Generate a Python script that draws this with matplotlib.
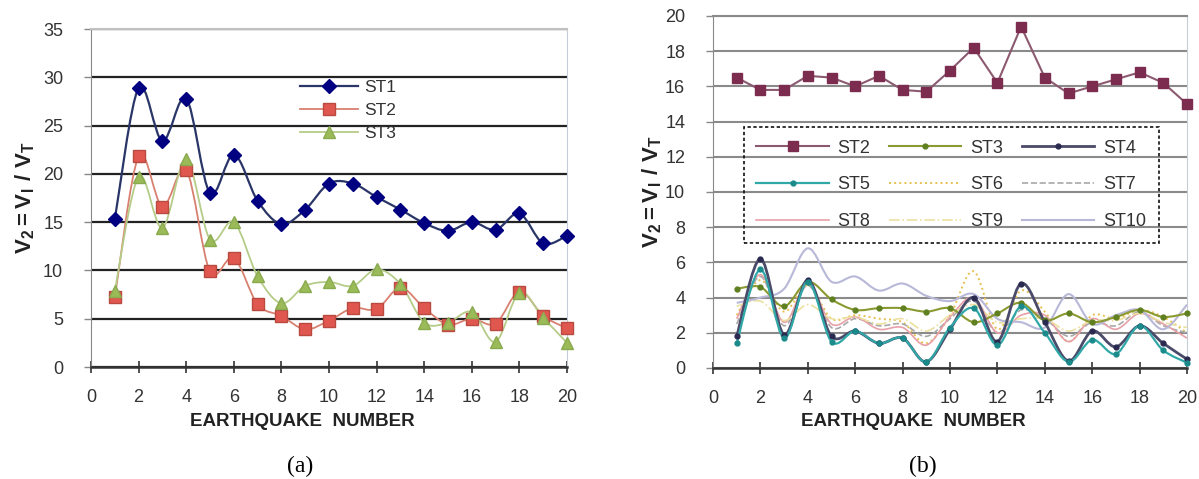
import numpy as np
import matplotlib
matplotlib.use("Agg")
import matplotlib.pyplot as plt
from matplotlib.path import Path
from matplotlib.patches import PathPatch
from matplotlib.lines import Line2D

plt.rcParams['font.family'] = ['Liberation Sans', 'DejaVu Sans']
plt.rcParams['mathtext.fontset'] = 'custom'
plt.rcParams['mathtext.bf'] = 'Liberation Sans:bold'
plt.rcParams['mathtext.rm'] = 'Liberation Sans'

# ==========================================
# DATA
# ==========================================
quake = np.arange(1, 21)

# panel (a)
a_st1 = [15.3, 28.9, 23.4, 27.8, 18.0, 22.0, 17.2, 14.8, 16.3, 19.0,
         19.0, 17.6, 16.3, 14.9, 14.1, 15.0, 14.2, 15.9, 12.8, 13.6]
a_st2 = [7.2, 21.8, 16.6, 20.4, 9.9, 11.3, 6.5, 5.3, 3.9, 4.8,
         6.1, 6.0, 8.2, 6.1, 4.4, 5.0, 4.5, 7.8, 5.3, 4.0]
a_st3 = [7.9, 19.7, 14.4, 21.5, 13.2, 15.0, 9.4, 6.6, 8.4, 8.8,
         8.4, 10.1, 8.6, 4.6, 4.6, 5.7, 2.6, 7.7, 5.1, 2.5]

# panel (b)
b_st2 = [16.5, 15.8, 15.8, 16.6, 16.5, 16.0, 16.6, 15.8, 15.7, 16.9,
         18.2, 16.2, 19.4, 16.5, 15.6, 16.0, 16.4, 16.8, 16.2, 15.0]
b_st3 = [4.5, 4.6, 3.5, 4.9, 3.9, 3.3, 3.4, 3.4, 3.2, 3.4,
         2.6, 3.1, 3.7, 2.7, 3.1, 2.6, 2.9, 3.3, 2.9, 3.1]
b_st4 = [1.8, 6.2, 1.9, 5.0, 1.8, 2.1, 1.4, 1.7, 0.35, 2.2,
         4.0, 1.5, 4.8, 2.6, 0.4, 2.1, 1.2, 2.4, 1.4, 0.5]
b_st5 = [1.4, 5.6, 1.7, 4.9, 1.5, 2.1, 1.4, 1.7, 0.35, 2.3,
         3.4, 1.3, 3.5, 2.0, 0.35, 1.6, 0.8, 2.4, 1.0, 0.3]
b_st6 = [3.0, 5.0, 3.2, 4.7, 2.8, 3.0, 2.8, 2.6, 1.4, 3.0,
         5.5, 2.2, 4.4, 3.2, 1.5, 3.0, 2.8, 3.3, 2.9, 2.0]
b_st7 = [2.5, 5.2, 2.4, 4.7, 2.3, 2.8, 2.4, 2.5, 1.8, 2.8,
         3.8, 2.0, 3.3, 2.8, 1.8, 2.6, 2.4, 3.2, 2.4, 2.0]
b_st8 = [2.8, 5.3, 2.6, 4.8, 2.5, 2.9, 2.2, 2.3, 1.3, 2.9,
         4.0, 2.0, 3.0, 3.0, 1.5, 2.8, 2.2, 3.1, 2.5, 1.7]
b_st9 = [3.5, 3.8, 2.7, 3.6, 2.8, 2.9, 2.5, 2.8, 2.1, 3.0,
         3.6, 2.6, 2.8, 2.8, 2.1, 2.7, 2.7, 3.1, 2.6, 2.3]
b_st10 = [3.7, 4.0, 4.5, 6.8, 4.9, 5.2, 4.4, 4.8, 4.1, 3.8,
          4.2, 2.8, 2.6, 2.3, 4.2, 2.5, 3.0, 3.3, 2.2, 3.6]

x_ticks = list(range(0, 21, 2))
ylab = r'$\mathbf{V_2{=}V_I\ /\ V_T}$'
xlab = 'EARTHQUAKE  NUMBER'


def smooth_path(x, y):
    # excel-like smoothed line: bezier segments through the data points
    pts = np.column_stack([x, y]).astype(float)
    n = len(pts)
    verts = [pts[0]]
    codes = [Path.MOVETO]
    for i in range(n - 1):
        p0 = pts[max(i - 1, 0)]
        p1 = pts[i]
        p2 = pts[i + 1]
        p3 = pts[min(i + 2, n - 1)]
        verts += [p1 + (p2 - p0) / 6, p2 - (p3 - p1) / 6, p2]
        codes += [Path.CURVE4] * 3
    return Path(verts, codes)


def series(ax, y, color, lw=1.3, ls='-', marker=None, ms=6, mfc=None, mec=None,
           smooth=True, z=3):
    if smooth:
        ax.add_patch(PathPatch(smooth_path(quake, y), facecolor='none', edgecolor=color,
                               lw=lw, ls=ls, zorder=z))
    else:
        ax.plot(quake, y, color=color, lw=lw, ls=ls, zorder=z)
    if marker:
        ax.plot(quake, y, ls='none', marker=marker, ms=ms, mfc=mfc or color,
                mec=mec or mfc or color, zorder=z + 0.5, clip_on=False)
    return Line2D([], [], color=color, lw=lw, ls=ls, marker=marker, ms=ms,
                  mfc=mfc or color, mec=mec or mfc or color)


def style_axes(ax, ymax, ystep, grid_color, grid_lw, spine_color):
    ax.set_xlim(0, 20)
    ax.set_ylim(0, ymax)
    ax.set_xticks(x_ticks)
    ax.set_yticks(np.arange(0, ymax + 0.1, ystep))
    ax.yaxis.grid(True, color=grid_color, lw=grid_lw, zorder=1)
    ax.set_axisbelow(True)
    ax.spines['left'].set_color('#888888')
    ax.spines['bottom'].set_color('#333333')
    ax.spines['bottom'].set_linewidth(1.8)
    ax.spines['top'].set_color(spine_color)
    ax.spines['right'].set_color('#c8cbd8')
    ax.spines['top'].set_linewidth(1.5)
    ax.tick_params(axis='x', direction='inout', length=8, width=1.2, color='#333333',
                   pad=12, labelsize=13, labelcolor='#333333')
    ax.tick_params(axis='y', direction='out', length=5, width=1.0, color='#888888',
                   pad=15, labelsize=13, labelcolor='#333333')


fig = plt.figure(figsize=(11.99, 4.79), dpi=100)
W, H = 1199, 479

# ---------- panel (a) ----------
axa = fig.add_axes([91 / W, 1 - 367 / H, 476 / W, 338 / H])
style_axes(axa, 35, 5, '#222222', 1.6, '#c0c0c0')
h1 = series(axa, a_st1, '#2a3568', lw=1.6, marker='D', ms=7, mfc='#000080')
h2 = series(axa, a_st2, '#d88070', lw=1.3, marker='s', ms=8.5, mfc='#e0574f', mec='#b84a40')
h3 = series(axa, a_st3, '#b5cc88', lw=1.3, marker='^', ms=8, mfc='#9bbb59', mec='#8aaa50')
leg = axa.legend([h1, h2, h3], ['ST1', 'ST2', 'ST3'], loc='upper left',
                 bbox_to_anchor=(0.44, 0.85), frameon=False, fontsize=12.5,
                 handlelength=3.3, handletextpad=0.4, labelspacing=0.45,
                 borderpad=0, borderaxespad=0)
for t in leg.get_texts():
    t.set_color('#333333')

# ---------- panel (b) ----------
axb = fig.add_axes([713 / W, 1 - 368 / H, 474 / W, 352 / H])
style_axes(axb, 20, 2, '#8a8a8a', 1.5, '#8a8a8a')
hb = []
hb.append(series(axb, b_st2, '#8c5a70', lw=1.5, marker='s', ms=6.5, mfc='#7b2c4f',
                 smooth=False, z=5))
hb.append(series(axb, b_st3, '#8a9a30', lw=1.5, marker='o', ms=3.5, mfc='#5f7f20', z=4))
hb.append(series(axb, b_st4, '#4a4a6a', lw=2.0, marker='o', ms=3.5, mfc='#2a2a50', z=4))
hb.append(series(axb, b_st5, '#30a8a8', lw=1.6, marker='o', ms=3.5, mfc='#1a8a8a', z=4))
hb.append(series(axb, b_st6, '#e8c050', lw=1.4, ls=':', z=3))
hb.append(series(axb, b_st7, '#a8a8a8', lw=1.2, ls='--', z=3))
hb.append(series(axb, b_st8, '#e8a0a8', lw=1.2, z=3))
hb.append(series(axb, b_st9, '#ece0a0', lw=1.2, ls='-.', z=3))
hb.append(series(axb, b_st10, '#b8b8d8', lw=1.5, z=3))
names_b = ['ST2', 'ST3', 'ST4', 'ST5', 'ST6', 'ST7', 'ST8', 'ST9', 'ST10']
# legend is filled row by row (3 columns)
order = [0, 3, 6, 1, 4, 7, 2, 5, 8]
legb = axb.legend([hb[i] for i in order], [names_b[i] for i in order], ncol=3,
                  loc='upper left', bbox_to_anchor=(0.065, 0.364, 0.876, 0.321),
                  mode='expand', fontsize=13, handlelength=4.0, handletextpad=0.5,
                  labelspacing=1.1, borderpad=0.7, borderaxespad=0,
                  columnspacing=1.0, fancybox=False)
fr = legb.get_frame()
fr.set_facecolor('none')
fr.set_edgecolor('#111111')
fr.set_alpha(1)
fr.set_linestyle((0, (2, 1.5)))
fr.set_linewidth(1.2)
for t in legb.get_texts():
    t.set_color('#333333')

# ---------- labels ----------
for xc, yc, lx in [(25, 198, 302), (652, 192, 913)]:
    fig.text(xc / W, 1 - yc / H, ylab, rotation=90, ha='center', va='center',
             fontsize=16, color='#222222')
    fig.text(lx / W, 1 - 422 / H, xlab, ha='center', va='center', fontsize=13.5,
             fontweight='bold', color='#222222')
fig.text(300 / W, 1 - 466 / H, '(a)', ha='center', va='center', fontsize=17,
         family='Liberation Serif')
fig.text(923 / W, 1 - 466 / H, '(b)', ha='center', va='center', fontsize=17,
         family='Liberation Serif')

fig.savefig('out.png', dpi=100)
